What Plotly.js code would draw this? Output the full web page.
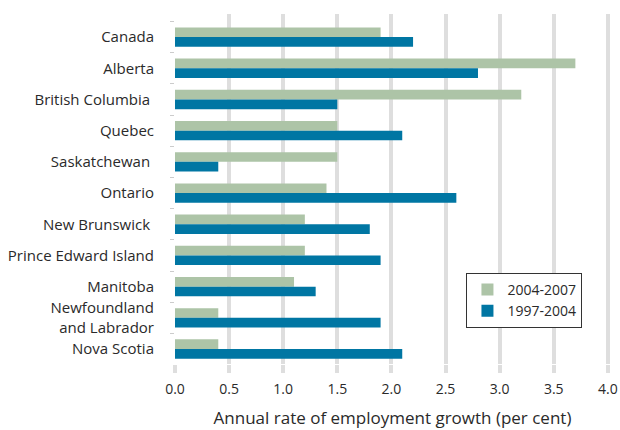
<!DOCTYPE html>
<html>
<head>
<meta charset="utf-8">
<script src="https://cdn.plot.ly/plotly-3.0.1.min.js"></script>
<style>html,body{margin:0;padding:0;background:#fff;}#chart{width:620px;height:430px;}</style>
</head>
<body>
<div id="chart"></div>
<script>
const provinces = ["Canada", "Alberta", "British Columbia ", "Quebec", "Saskatchewan ", "Ontario", "New Brunswick ", "Prince Edward Island", "Manitoba", "Newfoundland<br>and Labrador", "Nova Scotia"];
const growth2004_2007 = [1.9, 3.7, 3.2, 1.5, 1.5, 1.4, 1.2, 1.2, 1.1, 0.4, 0.4];
const growth1997_2004 = [2.2, 2.8, 1.5, 2.1, 0.4, 2.6, 1.8, 1.9, 1.3, 1.9, 2.1];
const xTicks = [0, 0.5, 1, 1.5, 2, 2.5, 3, 3.5, 4];
const xTickLabels = ["0.0", "0.5", "1.0", "1.5", "2.0", "2.5", "3.0", "3.5", "4.0"];

const font = "'Open Sans', Lato, sans-serif";
const traces = [
  {type: "bar", orientation: "h", name: "2004-2007", y: provinces, x: growth2004_2007,
   marker: {color: "#adc4a7"}},
  {type: "bar", orientation: "h", name: "1997-2004", y: provinces, x: growth1997_2004,
   marker: {color: "#0076a3"}}
];
const layout = {
  width: 620, height: 430,
  margin: {l: 175, r: 10, t: 14, b: 66},
  paper_bgcolor: "#fff", plot_bgcolor: "#fff",
  font: {family: font, size: 14, color: "#2a2a2a"},
  barmode: "group", bargap: 0.38, bargroupgap: 0,
  showlegend: true,
  legend: {x: 0.67, y: 0.26, xanchor: "left", yanchor: "top",
           bordercolor: "#333", borderwidth: 1, bgcolor: "#fff",
           font: {family: font, size: 14, color: "#2a2a2a"}, tracegroupgap: 2},
  xaxis: {range: [0, 4.02], tickvals: xTicks, ticktext: xTickLabels,
          showgrid: true, gridcolor: "#dedede", gridwidth: 4, zeroline: false,
          showline: false, ticks: "outside", ticklen: 8, tickwidth: 4, tickcolor: "#dedede",
          tickfont: {size: 14}, ticklabelstandoff: 4,
          title: {text: "Annual rate of employment growth (per cent)", font: {size: 17}, standoff: 15}},
  yaxis: {type: "category", range: [10.48, -0.74], showgrid: false, zeroline: false,
          showline: false, ticks: "outside", tickson: "boundaries", ticklen: 4, tickwidth: 1,
          tickcolor: "#cccccc", tickfont: {size: 15}, ticklabelstandoff: 20}
};
Plotly.newPlot("chart", traces, layout, {displayModeBar: false, staticPlot: true});
</script>
</body>
</html>
